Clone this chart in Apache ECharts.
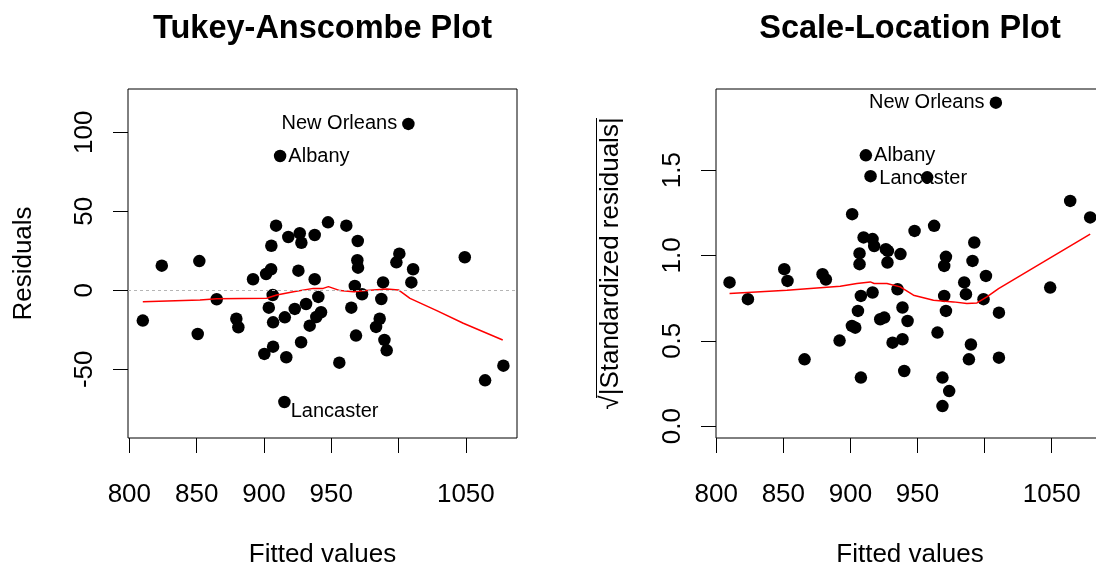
<!DOCTYPE html>
<html>
<head>
<meta charset="utf-8">
<script src="https://cdn.jsdelivr.net/npm/echarts@6/dist/echarts.min.js"></script>
<style>html,body{margin:0;padding:0;background:#fff;}#chart{width:1096px;height:565px;}</style>
</head>
<body>
<div id="chart"></div>
<script>
// ---------- Tukey-Anscombe plot: fitted values vs residuals ----------
const taFitted = [810, 824.1, 852, 850.8, 864.9, 879.5, 881, 891.9, 901.6, 905.3, 905.5, 909,
  906.5, 903.6, 906.8, 900.3, 906.8, 916.6, 915.5, 918.1, 922.9, 925.6, 926.6, 927.8, 931.3,
  927.6, 934, 937.7, 937.7, 940.4, 938.9, 942.4, 947.6, 956, 961.2, 969.7, 969.4, 969.9, 967.5,
  972.9, 964.9, 968.4, 988.5, 987.2, 986, 983.3, 989.5, 991.2, 1000.6, 998.4, 1010.8, 1009.5,
  1049.2, 1064.3, 1077.9];
const taResiduals = [-19.2, 15.6, 18.5, -27.7, -5.7, -18, -23.4, 7, 10.3, 13.3, 28.2, 40.9,
  -3, -11, -20.3, -40.3, -35.7, -42.4, -17.1, 33.7, -11.8, 12.4, 36.1, 30.1, -8.7,
  -32.9, -22.4, 35, 7, -4.2, -16.9, -13.9, 43, -45.8, 40.9, 31.2, 19, 14.3, 2.7,
  -2.5, -11, -28.7, 5, -5.5, -18, -23.2, -31.4, -38, 23.2, 17.7, 13.3, 5,
  20.9, -57, -47.7];
const taOutlierNames = ['New Orleans', 'Albany', 'Lancaster'];
const taOutlierFitted = [1007.3, 912.0, 915.2];
const taOutlierResiduals = [105.3, 85.0, -70.7];
const taSmoothX = [810, 852.5, 865, 902, 909.5, 921.9, 936.7, 944, 947.9, 956.5, 966.4, 976.4,
  991.2, 999.9, 1008.5, 1028.4, 1048.1, 1077.4];
const taSmoothY = [-7.2, -6.1, -5.3, -5.1, -3, -0.9, 1.2, 1.2, 2.3, -0.2, -0.9, -0.2,
  0.8, 0.2, -5.1, -12.9, -20.9, -31.5];

// ---------- Scale-Location plot: fitted values vs sqrt(|standardized residuals|) ----------
const slFitted = [809.9, 823.6, 850.7, 853.1, 865.8, 879.2, 881.7, 891.9, 901.3, 901.1, 903.6,
  905.6, 906.8, 906.8, 907.8, 907.8, 909.8, 916.5, 917.7, 916.5, 922.2, 925.2, 926.4, 927.9,
  927.6, 931.4, 935.1, 937.3, 938.8, 938.8, 942.6, 940.1, 947.8, 957.2, 962.4, 964.9, 971.2,
  969.9, 969.9, 971.2, 968.6, 973.6, 968.6, 984.8, 986.1, 988.3, 989.8, 991, 992.3, 1001,
  999.2, 1010.7, 1010.7, 1048.9, 1063.8, 1078.7];
const slValues = [0.842, 0.744, 0.92, 0.851, 0.391, 0.89, 0.859, 0.501, 1.242, 0.587, 0.577,
  0.675, 1.012, 0.949, 0.284, 0.763, 1.106, 1.096, 1.055, 0.783, 0.626, 0.636, 1.037, 1.027,
  0.959, 0.489, 0.802, 1.008, 0.509, 0.695, 0.616, 0.323, 1.144, 1.458, 1.174, 0.548, 0.992,
  0.939, 0.763, 0.675, 0.284, 0.205, 0.117, 0.842, 0.773, 0.391, 0.478, 0.968, 1.076, 0.88,
  0.744, 0.665, 0.401, 0.812, 1.32, 1.223];
const slOutlierNames = ['New Orleans', 'Albany', 'Lancaster'];
const slOutlierFitted = [1008.4, 911.5, 915.0];
const slOutlierValues = [1.896, 1.587, 1.465];
const slSmoothX = [809.9, 852.7, 892.4, 904.8, 914.8, 917.7, 927.2, 937.1, 947, 961.9, 976.8,
  986.8, 994.3, 1001.7, 1010.4, 1043.9, 1078.7];
const slSmoothY = [0.777, 0.796, 0.82, 0.836, 0.845, 0.836, 0.836, 0.816, 0.767, 0.738, 0.728,
  0.718, 0.722, 0.757, 0.806, 0.962, 1.125];

// ---------- axis ticks / labels ----------
const xTicks = [800, 850, 900, 950, 1000, 1050];
const xTickLabels = [800, 850, 900, 950, 1050];
const taYTicks = [-50, 0, 50, 100];
const slYTicks = [0, 0.5, 1.0, 1.5];

const FONT = '"Liberation Sans", Arial, Helvetica, sans-serif';
const zip = (a, b) => a.map((v, i) => [v, b[i]]);

function xAxisCfg(gi, min, max) {
  return {
    type: 'value', gridIndex: gi, min: min, max: max,
    axisLine: { show: false, onZero: false }, splitLine: { show: false },
    axisTick: { show: true, inside: false, length: 15, customValues: xTicks,
      lineStyle: { color: '#000', width: 1 } },
    axisLabel: { customValues: xTickLabels, fontSize: 26, color: '#000', margin: 44, fontFamily: FONT,
      formatter: v => String(v) },
    name: 'Fitted values', nameLocation: 'middle', nameGap: 104,
    nameTextStyle: { fontSize: 26, color: '#000', fontFamily: FONT }
  };
}
function yAxisCfg(gi, min, max, ticks, name, fmt, gap) {
  return {
    type: 'value', gridIndex: gi, min: min, max: max,
    axisLine: { show: false, onZero: false }, splitLine: { show: false },
    axisTick: { show: true, inside: false, length: 15, customValues: ticks,
      lineStyle: { color: '#000', width: 1 } },
    axisLabel: { customValues: ticks, rotate: 90, fontSize: 26, color: '#000', margin: 30,
      fontFamily: FONT, formatter: fmt },
    name: name, nameLocation: 'middle', nameGap: gap,
    nameTextStyle: { fontSize: 26, color: '#000', fontFamily: FONT }
  };
}

const chart = echarts.init(document.getElementById('chart'), null, { renderer: 'canvas' });
const pointStyle = { color: '#000', opacity: 1 };
const option = {
  animation: false,
  backgroundColor: '#fff',
  textStyle: { fontFamily: FONT },
  title: [
    { text: 'Tukey-Anscombe Plot', left: 322.5, top: 13, textAlign: 'center', padding: 0,
      textStyle: { fontSize: 32.5, fontWeight: 'bold', color: '#000', fontFamily: FONT } },
    { text: 'Scale-Location Plot', left: 910, top: 13, textAlign: 'center', padding: 0,
      textStyle: { fontSize: 32.5, fontWeight: 'bold', color: '#000', fontFamily: FONT } }
  ],
  grid: [
    { left: 128, top: 89, width: 389, height: 349, show: true, borderColor: '#000', borderWidth: 1,
      backgroundColor: 'transparent', containLabel: false, outerBoundsMode: 'none' },
    { left: 716, top: 89, width: 388, height: 349, show: true, borderColor: '#000', borderWidth: 1,
      backgroundColor: 'transparent', containLabel: false, outerBoundsMode: 'none' }
  ],
  xAxis: [xAxisCfg(0, 799, 1088), xAxisCfg(1, 799.8, 1089)],
  yAxis: [
    yAxisCfg(0, -93.5, 127.4, taYTicks, 'Residuals', v => String(v), 91),
    yAxisCfg(1, -0.07, 1.976, slYTicks, '√|Standardized residuals|', v => Number(v).toFixed(1), 92)
  ],
  series: [
    { type: 'scatter', xAxisIndex: 0, yAxisIndex: 0, symbolSize: 12.5, itemStyle: pointStyle,
      data: zip(taFitted, taResiduals), z: 3,
      markLine: { silent: true, symbol: ['none', 'none'], label: { show: false },
        lineStyle: { color: '#b5b5b5', type: [3, 3], width: 1 }, data: [{ yAxis: 0 }] } },
    { type: 'line', xAxisIndex: 0, yAxisIndex: 0, showSymbol: false, symbol: 'none',
      lineStyle: { color: '#ff0000', width: 1.5 }, data: zip(taSmoothX, taSmoothY), z: 4 },
    { type: 'scatter', xAxisIndex: 0, yAxisIndex: 0, symbolSize: 12.5, itemStyle: pointStyle, z: 3,
      data: taOutlierNames.map((n, i) => {
        const pos = [
          { position: 'left', distance: 5 },
          { position: 'right', distance: 2 },
          { position: 'right', distance: 0, offset: [0, 10] }][i];
        return { name: n, value: [taOutlierFitted[i], taOutlierResiduals[i]],
          label: Object.assign({ show: true, formatter: '{b}', fontSize: 20, color: '#000', fontFamily: FONT }, pos) };
      }) },
    { type: 'scatter', xAxisIndex: 1, yAxisIndex: 1, symbolSize: 12.5, itemStyle: pointStyle,
      data: zip(slFitted, slValues), z: 3 },
    { type: 'line', xAxisIndex: 1, yAxisIndex: 1, showSymbol: false, symbol: 'none',
      lineStyle: { color: '#ff0000', width: 1.5 }, data: zip(slSmoothX, slSmoothY), z: 4 },
    { type: 'scatter', xAxisIndex: 1, yAxisIndex: 1, symbolSize: 12.5, itemStyle: pointStyle, z: 3,
      data: slOutlierNames.map((n, i) => {
        const pos = [
          { position: 'left', distance: 5 },
          { position: 'right', distance: 2 },
          { position: 'right', distance: 2.5, offset: [0, 2] }][i];
        return { name: n, value: [slOutlierFitted[i], slOutlierValues[i]],
          label: Object.assign({ show: true, formatter: '{b}', fontSize: 20, color: '#000', fontFamily: FONT }, pos) };
      }) }
  ],
  graphic: [
    // overline of the square-root sign in the y-axis title
    { type: 'line', silent: true, shape: { x1: 596.5, y1: 118, x2: 596.5, y2: 398 },
      style: { stroke: '#000', lineWidth: 1 } }
  ]
};
chart.setOption(option);
</script>
</body>
</html>
